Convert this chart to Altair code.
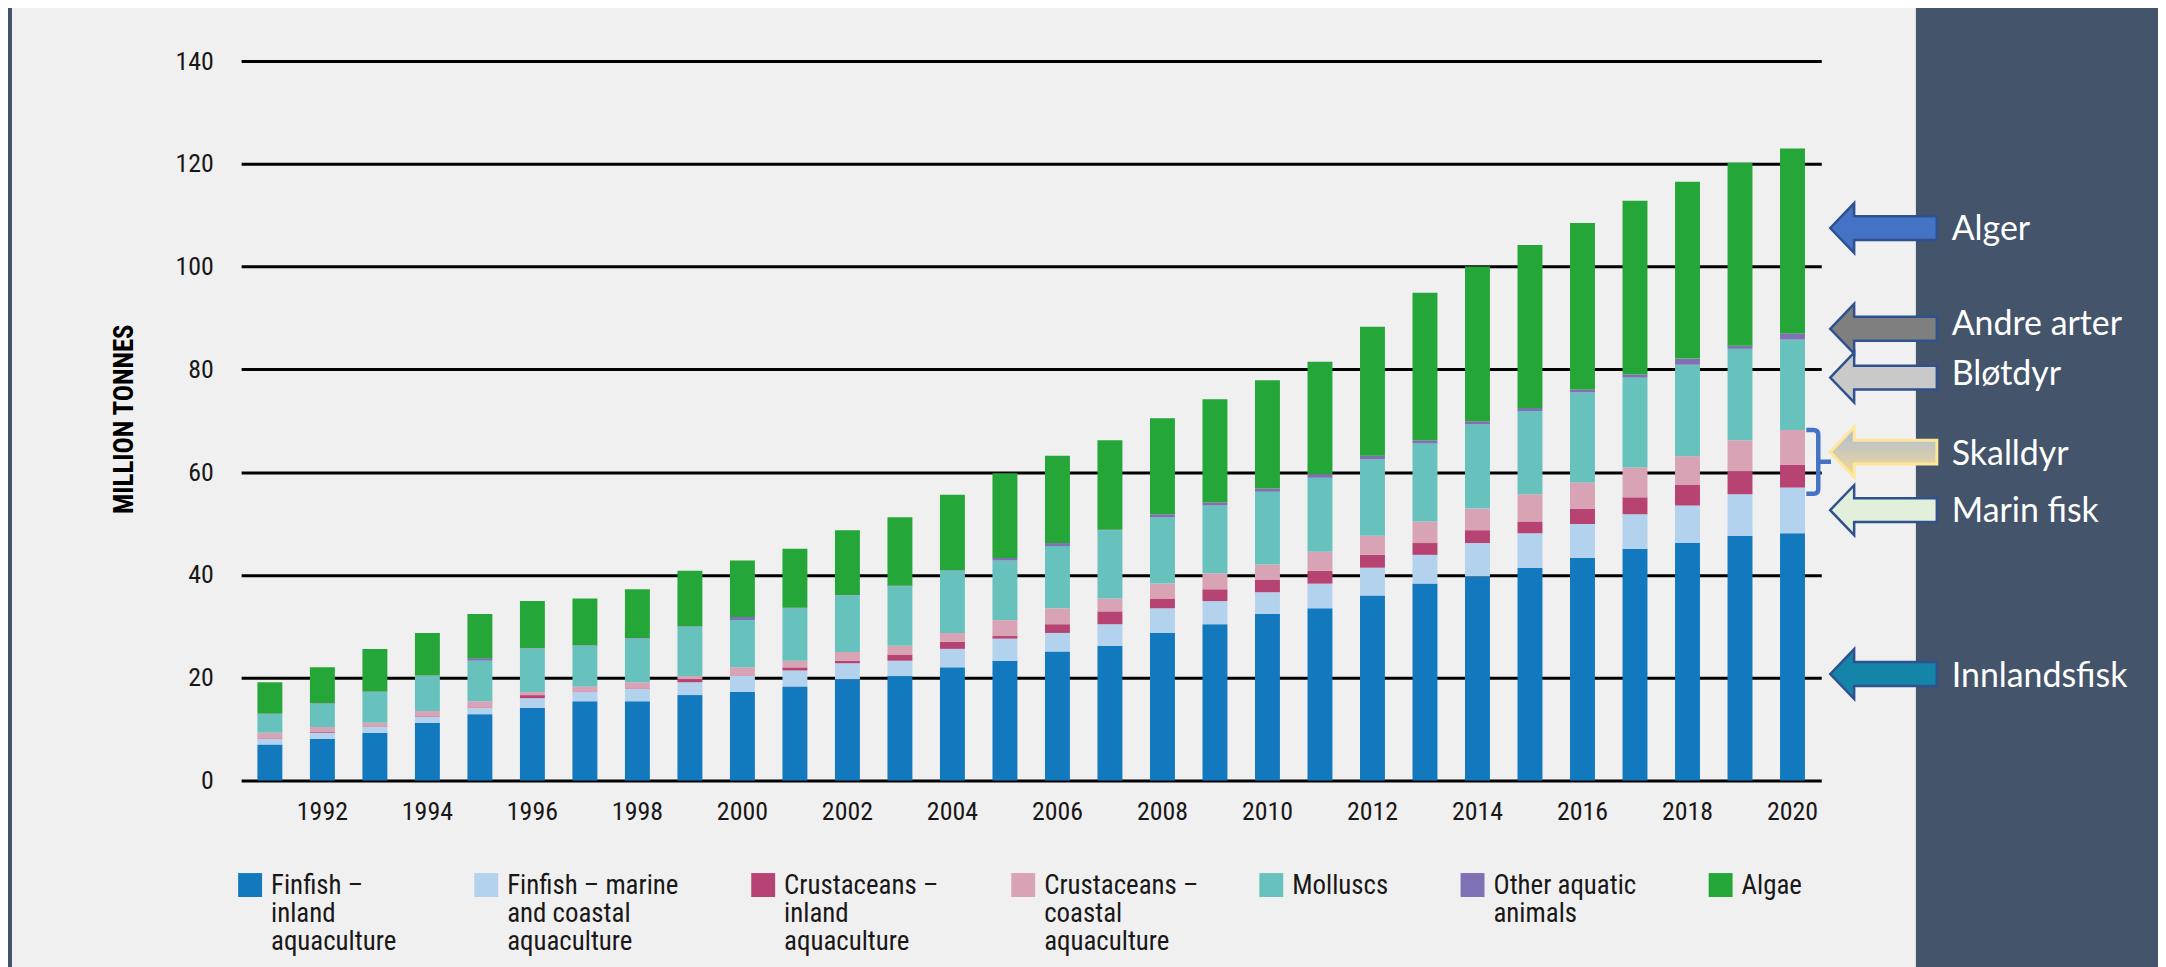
import altair as alt
import pandas as pd

# ---------------- data ----------------
years = list(range(1991, 2021))

finfish_inland = [7.0, 8.1, 9.3, 11.2, 12.9, 14.1, 15.4, 15.4, 16.6, 17.2,
                  18.3, 19.7, 20.3, 22.0, 23.3, 25.1, 26.2, 28.7, 30.4, 32.4,
                  33.5, 36.0, 38.3, 39.7, 41.4, 43.3, 45.1, 46.2, 47.6, 48.1]
finfish_marine = [1.1, 1.2, 1.1, 1.2, 1.2, 1.9, 1.8, 2.4, 2.5, 3.1,
                  3.1, 3.1, 3.0, 3.6, 4.3, 3.6, 4.2, 4.8, 4.5, 4.2,
                  4.8, 5.4, 5.6, 6.5, 6.7, 6.6, 6.7, 7.3, 8.1, 8.9]
crust_inland = [0.1, 0.1, 0.1, 0.1, 0.1, 0.6, 0.1, 0.1, 0.6, 0.1,
                0.6, 0.5, 1.2, 1.4, 0.5, 1.7, 2.5, 1.9, 2.3, 2.5,
                2.5, 2.5, 2.3, 2.5, 2.3, 3.0, 3.3, 4.0, 4.5, 4.4]
crust_coastal = [1.1, 1.0, 0.7, 1.0, 1.2, 0.6, 1.0, 1.2, 0.6, 1.6,
                 1.3, 1.7, 1.7, 1.7, 3.1, 3.1, 2.5, 2.9, 3.1, 2.9,
                 3.7, 3.7, 4.2, 4.2, 5.3, 5.1, 5.8, 5.6, 6.0, 6.8]
molluscs = [3.6, 4.5, 6.0, 6.8, 7.9, 8.4, 7.9, 8.5, 9.6, 9.2,
            10.2, 11.0, 11.6, 12.1, 11.6, 12.1, 13.3, 12.9, 13.2, 14.2,
            14.4, 14.9, 15.2, 16.4, 16.2, 17.5, 17.5, 17.8, 17.8, 17.6]
other_aquatic = [0.1, 0.1, 0.1, 0.1, 0.5, 0.1, 0.1, 0.1, 0.1, 0.6,
                 0.1, 0.1, 0.1, 0.1, 0.5, 0.6, 0.1, 0.6, 0.6, 0.6,
                 0.7, 0.7, 0.6, 0.6, 0.6, 0.6, 0.6, 1.2, 0.6, 1.2]
algae = [6.1, 7.0, 8.3, 8.3, 8.6, 9.2, 9.1, 9.5, 10.8, 11.0,
         11.5, 12.6, 13.3, 14.7, 16.5, 17.0, 17.4, 18.7, 20.1, 21.1,
         21.9, 25.1, 28.7, 30.1, 31.7, 32.4, 33.8, 34.4, 35.6, 36.0]

categories = ["Finfish – inland aquaculture",
              "Finfish – marine and coastal aquaculture",
              "Crustaceans – inland aquaculture",
              "Crustaceans – coastal aquaculture",
              "Molluscs",
              "Other aquatic animals",
              "Algae"]
legend_labels = ["Finfish –\ninland\naquaculture",
                 "Finfish – marine\nand coastal\naquaculture",
                 "Crustaceans –\ninland\naquaculture",
                 "Crustaceans –\ncoastal\naquaculture",
                 "Molluscs",
                 "Other aquatic\nanimals",
                 "Algae"]
colors = ["#1279BF", "#B3D2EE", "#B74373", "#D8A3B5", "#67C2BE", "#8070B4", "#24A638"]

x_tick_years = list(range(1992, 2021, 2))
y_ticks = [0, 20, 40, 60, 80, 100, 120, 140]

# annotation (Norwegian) labels, positioned in data units on the y scale
note_labels = ["Alger", "Andre arter", "Bløtdyr", "Skalldyr", "Marin fisk", "Innlandsfisk"]
note_arrow_y = [107.5, 87.9, 78.4, 63.9, 52.6, 20.7]
note_text_y = [105.2, 86.6, 76.9, 61.4, 50.3, 18.1]
note_fill = ["#4472C4", "#7F7F7F", "#C9C9C9", "#C8C8C8", "#E2EFDA", "#1584A9"]
note_stroke = ["#2F528F", "#2F528F", "#2F528F", "#FFE699", "#2F528F", "#2F528F"]
bracket_y = 62.0

# ---------------- table ----------------
series = [finfish_inland, finfish_marine, crust_inland, crust_coastal,
          molluscs, other_aquatic, algae]
rows = []
for ci, (cat, vals) in enumerate(zip(categories, series)):
    for yr, v in zip(years, vals):
        rows.append({"year": yr, "category": cat, "value": v, "idx": ci})
df = pd.DataFrame(rows)

color_scale = alt.Scale(domain=categories, range=colors)
y_scale = alt.Scale(domain=[0, 140], nice=False)

NARROW = "Roboto Condensed, Liberation Sans Narrow, Arial Narrow, Roboto, sans-serif"
TXT = "#1A1718"

# ---------------- layout constants (plot coords) ----------------
W, H = 1586, 722
PAD_L, PAD_T = 234, 51.5
PAD_R = 2158 - PAD_L - W
PAD_B = 959 - PAD_T - H

bars = alt.Chart(df).mark_bar().encode(
    x=alt.X("year:O",
            scale=alt.Scale(paddingInner=0.525, paddingOuter=0.31),
            axis=alt.Axis(values=x_tick_years, title=None, labelAngle=0,
                          domain=False, ticks=False, grid=False,
                          labelFont=NARROW, labelFontSize=26, labelColor=TXT,
                          labelPadding=18)),
    y=alt.Y("value:Q", stack="zero", scale=y_scale,
            axis=alt.Axis(values=y_ticks, title="MILLION TONNES",
                          domain=False, ticks=False, grid=True,
                          gridColor="#000000", gridWidth=3, gridOpacity=1,
                          labelFont=NARROW, labelFontSize=26, labelColor=TXT,
                          labelPadding=28,
                          titleFont=NARROW, titleFontSize=27, titleFontWeight="bold",
                          titleColor="#000000", titleAngle=-90,
                          titleX=-117, titleY=359,
                          titleAlign="center", titleBaseline="middle")),
    color=alt.Color("category:N", scale=color_scale, legend=None),
    order=alt.Order("idx:Q", sort="ascending"),
)

# slate surrounding area (right side and thin left strip)
slate_right = alt.Chart(pd.DataFrame({"a": [0]})).mark_rect(color="#44546A").encode(
    x=alt.value(1681), x2=alt.value(1940), y=alt.value(-60), y2=alt.value(920))
slate_left = alt.Chart(pd.DataFrame({"a": [0]})).mark_rect(color="#44546A").encode(
    x=alt.value(-240), x2=alt.value(-230), y=alt.value(-60), y2=alt.value(920))

notes = pd.DataFrame({"label": note_labels, "ay": note_arrow_y, "ty": note_text_y,
                      "fill": note_fill, "stroke": note_stroke})

ARROW = ("M -1 0 L -0.551 -0.467 L -0.551 -0.224 L 1 -0.224 "
         "L 1 0.224 L -0.551 0.224 L -0.551 0.467 Z")

arrows = alt.Chart(notes).transform_filter(
    alt.datum.label != "Skalldyr"
).mark_point(shape=ARROW, size=107 * 107, filled=True, opacity=1,
             strokeWidth=2.5, strokeOpacity=1, fillOpacity=1).encode(
    x=alt.value(1648.5),
    y=alt.Y("ay:Q", scale=y_scale),
    fill=alt.Fill("fill:N", scale=None),
    stroke=alt.Stroke("stroke:N", scale=None),
)

grad = alt.LinearGradient(gradient="linear",
                          stops=[alt.GradientStop(color="#A9BBD9", offset=0),
                                 alt.GradientStop(color="#F4D996", offset=1)],
                          x1=0, x2=0, y1=0, y2=1)
arrow_skall = alt.Chart(notes).transform_filter(
    alt.datum.label == "Skalldyr"
).mark_point(shape=ARROW, size=107 * 107, filled=True, opacity=1,
             fill=grad, stroke="#FFE699", strokeWidth=3, fillOpacity=1,
             strokeOpacity=1).encode(
    x=alt.value(1648.5),
    y=alt.Y("ay:Q", scale=y_scale),
)

BRACKET = ("M -0.375 -1 L -0.15 -1 Q 0 -1 0 -0.85 L 0 0.85 Q 0 1 -0.15 1 L -0.375 1 "
           "M 0 0 L 0.4 0")
bracket = alt.Chart(pd.DataFrame({"by": [bracket_y]})).mark_point(
    shape=BRACKET, size=64 * 64, filled=False, stroke="#4472C4",
    strokeWidth=4.5, opacity=1).encode(
    x=alt.value(1583),
    y=alt.Y("by:Q", scale=y_scale),
)

note_text = alt.Chart(notes).mark_text(
    font="Lato", fontSize=34, color="#FFFFFF", align="left", baseline="alphabetic"
).encode(
    x=alt.value(1717),
    y=alt.Y("ty:Q", scale=y_scale),
    text="label:N",
)

# ---------------- custom legend ----------------
legend_x = [-3, 234, 512, 773, 1022, 1224, 1473]   # swatch left edges (plot coords)
legend_layers = []
for cat, lab, lx in zip(categories, legend_labels, legend_x):
    ldf = pd.DataFrame({"category": [cat], "label": [lab]})
    sw = alt.Chart(ldf).mark_square(size=24 * 24, opacity=1).encode(
        x=alt.value(lx + 12), y=alt.value(827),
        color=alt.Color("category:N", scale=color_scale, legend=None))
    tx = alt.Chart(ldf).mark_text(
        font=NARROW, fontSize=27, color=TXT, align="left", baseline="top",
        lineBreak="\n", lineHeight=28
    ).encode(x=alt.value(lx + 33), y=alt.value(815), text="label:N")
    legend_layers += [sw, tx]

chart = alt.layer(
    slate_right, slate_left, bars, arrows, arrow_skall, bracket, note_text,
    *legend_layers
).properties(
    width=W, height=H,
    autosize=alt.AutoSizeParams(type="none"),
    padding={"left": PAD_L, "top": PAD_T, "right": PAD_R, "bottom": PAD_B},
    background="#F0F0F0",
).configure_view(stroke=None)

chart.save("out.html", embed_options={"renderer": "svg", "actions": False})
